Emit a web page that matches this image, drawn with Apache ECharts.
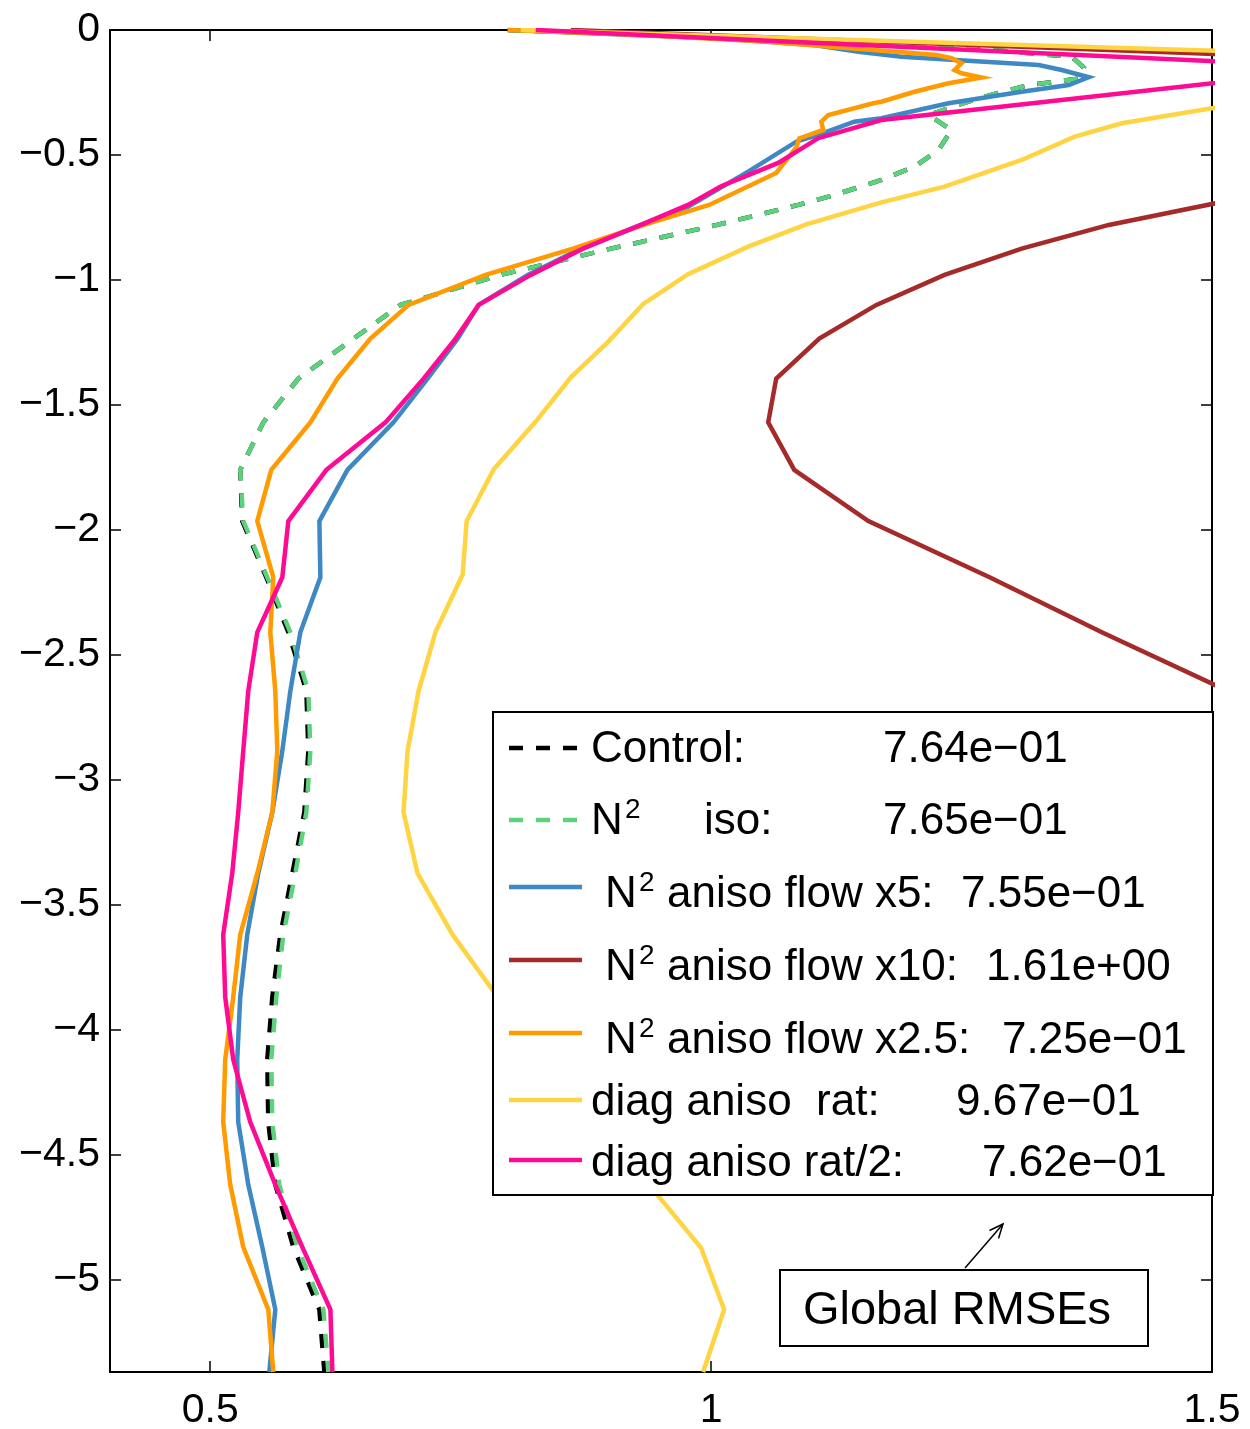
<!DOCTYPE html>
<html>
<head>
<meta charset="utf-8">
<script src="https://cdn.jsdelivr.net/npm/echarts@6/dist/echarts.min.js"></script>
<style>
  html, body { margin: 0; padding: 0; background: #ffffff; }
  #chart { width: 1250px; height: 1429px; }
</style>
</head>
<body>
<div id="chart"></div>
<script>
// Tick positions
const xTicks = [0.5, 1, 1.5];
const yTicks = [0, -0.5, -1, -1.5, -2, -2.5, -3, -3.5, -4, -4.5, -5];

// RMSE profiles: [rmse, depth]
const control = [
  [0.797, 0], [0.95, -0.02], [1.12, -0.05], [1.28, -0.08], [1.36, -0.107], [1.372, -0.15],
  [1.367, -0.195], [1.317, -0.22], [1.267, -0.273], [1.217, -0.34], [1.24, -0.4], [1.227, -0.48],
  [1.203, -0.547], [1.17, -0.6], [1.12, -0.664], [1.087, -0.7], [1.006, -0.78], [0.9, -0.875],
  [0.79, -0.98], [0.69, -1.1], [0.643, -1.235], [0.588, -1.395], [0.553, -1.57], [0.53, -1.76],
  [0.532, -1.965], [0.556, -2.19], [0.578, -2.41], [0.596, -2.645], [0.598, -2.885], [0.594, -3.13],
  [0.582, -3.375], [0.57, -3.62], [0.562, -3.87], [0.557, -4.12], [0.558, -4.37], [0.565, -4.62],
  [0.583, -4.87], [0.609, -5.12], [0.614, -5.37]
];
const n2Iso = [
  [0.797, 0], [0.95, -0.02], [1.12, -0.05], [1.28, -0.08], [1.36, -0.107], [1.372, -0.15],
  [1.367, -0.195], [1.317, -0.22], [1.267, -0.273], [1.217, -0.34], [1.24, -0.4], [1.227, -0.48],
  [1.203, -0.547], [1.17, -0.6], [1.12, -0.664], [1.087, -0.7], [1.006, -0.78], [0.9, -0.875],
  [0.79, -0.98], [0.69, -1.1], [0.643, -1.235], [0.588, -1.395], [0.553, -1.57], [0.53, -1.76],
  [0.533, -1.965], [0.557, -2.19], [0.58, -2.41], [0.598, -2.645], [0.6, -2.885], [0.596, -3.13],
  [0.585, -3.375], [0.573, -3.62], [0.566, -3.87], [0.561, -4.12], [0.562, -4.37], [0.569, -4.62],
  [0.587, -4.87], [0.613, -5.12], [0.618, -5.37]
];
const anisoX5 = [
  [0.8, 0], [1.003, -0.033], [1.103, -0.06], [1.147, -0.087], [1.19, -0.107], [1.327, -0.14],
  [1.35, -0.16], [1.377, -0.189], [1.357, -0.22], [1.31, -0.247], [1.237, -0.293], [1.17, -0.353],
  [1.143, -0.367], [1.107, -0.42], [1.085, -0.447], [1.037, -0.567], [0.977, -0.707], [0.93, -0.78],
  [0.87, -0.875], [0.817, -0.98], [0.768, -1.1], [0.747, -1.235], [0.717, -1.395], [0.683, -1.57],
  [0.637, -1.76], [0.609, -1.965], [0.61, -2.19], [0.59, -2.41], [0.58, -2.645], [0.572, -2.885],
  [0.562, -3.13], [0.548, -3.375], [0.537, -3.62], [0.53, -3.87], [0.527, -4.12], [0.528, -4.37],
  [0.538, -4.62], [0.552, -4.87], [0.565, -5.12], [0.559, -5.37]
];
const anisoX10 = [
  [0.86, 0], [1.6, -0.11], [1.9, -0.3], [1.9, -0.5], [1.52, -0.68], [1.397, -0.78], [1.31, -0.875],
  [1.233, -0.98], [1.165, -1.1], [1.108, -1.235], [1.065, -1.395], [1.057, -1.57], [1.083, -1.76],
  [1.157, -1.965], [1.278, -2.19], [1.39, -2.41], [1.516, -2.645], [1.62, -2.885]
];
const anisoX25 = [
  [0.797, 0], [0.93, -0.02], [1.05, -0.045], [1.225, -0.1], [1.24, -0.113], [1.25, -0.133],
  [1.243, -0.16], [1.25, -0.173], [1.27, -0.19], [1.237, -0.213], [1.203, -0.247], [1.17, -0.287],
  [1.162, -0.293], [1.117, -0.34], [1.11, -0.367], [1.112, -0.4], [1.088, -0.434], [1.085, -0.47],
  [1.065, -0.572], [0.998, -0.7], [0.933, -0.78], [0.862, -0.875], [0.775, -0.98], [0.698, -1.1],
  [0.66, -1.235], [0.627, -1.395], [0.6, -1.57], [0.561, -1.76], [0.547, -1.965], [0.563, -2.19],
  [0.56, -2.41], [0.565, -2.645], [0.567, -2.885], [0.562, -3.13], [0.547, -3.375], [0.53, -3.62],
  [0.523, -3.87], [0.515, -4.12], [0.513, -4.37], [0.52, -4.62], [0.533, -4.87], [0.558, -5.12],
  [0.563, -5.37]
];
const diagRat = [
  [0.81, 0], [1.6, -0.095], [1.75, -0.15], [1.7, -0.2], [1.6, -0.246], [1.41, -0.373],
  [1.363, -0.427], [1.31, -0.52], [1.233, -0.627], [1.17, -0.69], [1.095, -0.778], [1.037, -0.867],
  [0.977, -0.977], [0.932, -1.097], [0.898, -1.245], [0.86, -1.39], [0.825, -1.567], [0.783, -1.758],
  [0.756, -1.965], [0.752, -2.179], [0.725, -2.408], [0.708, -2.645], [0.697, -2.885], [0.693, -3.13],
  [0.707, -3.375], [0.742, -3.62], [0.787, -3.87], [0.84, -4.12], [0.89, -4.37], [0.938, -4.62],
  [0.99, -4.873], [1.013, -5.12], [0.992, -5.37]
];
const diagRatHalf = [
  [0.825, 0], [1.75, -0.17], [1.552, -0.19], [1.17, -0.36], [1.107, -0.433], [1.067, -0.532],
  [1.01, -0.625], [0.977, -0.7], [0.93, -0.78], [0.872, -0.875], [0.82, -0.98], [0.768, -1.1],
  [0.745, -1.235], [0.713, -1.395], [0.675, -1.57], [0.616, -1.76], [0.578, -1.965], [0.572, -2.19],
  [0.547, -2.41], [0.538, -2.645], [0.533, -2.885], [0.528, -3.13], [0.522, -3.375], [0.513, -3.62],
  [0.515, -3.87], [0.523, -4.12], [0.54, -4.37], [0.565, -4.62], [0.592, -4.87], [0.62, -5.12],
  [0.622, -5.37]
];

// Global RMSE of each run, as listed in the key
const seriesNames = ['Control', 'N2 iso', 'N2 aniso flow x5', 'N2 aniso flow x10',
  'N2 aniso flow x2.5', 'diag aniso rat', 'diag aniso rat/2'];
const globalRmse = ['7.64e\u221201', '7.65e\u221201', '7.55e\u221201', '1.61e+00',
  '7.25e\u221201', '9.67e\u221201', '7.62e\u221201'];

const profiles = [control, n2Iso, anisoX5, anisoX10, anisoX25, diagRat, diagRatHalf];
const colors = ['#000000', '#5CD27C', '#3E88C3', '#A52A2A', '#FF9A00', '#FFD442', '#FF0A93'];
const dashed = [true, true, false, false, false, false, false];

const FONT = '"Liberation Sans", Arial, Helvetica, sans-serif';
const X_MIN = 0.4, X_MAX = 1.5, Y_MIN = -5.37, Y_MAX = 0;

const chart = echarts.init(document.getElementById('chart'), null, { renderer: 'canvas' });

function xAxisDef(position, showLabel) {
  return {
    type: 'value', position: position, min: X_MIN, max: X_MAX,
    axisLine: { show: true, onZero: false, lineStyle: { color: '#000', width: 2 } },
    splitLine: { show: false },
    axisTick: { show: true, inside: true, length: 11, customValues: xTicks,
      lineStyle: { color: '#000', width: 1.5 } },
    axisLabel: { show: showLabel, customValues: xTicks, fontSize: 41, color: '#000',
      fontFamily: FONT, margin: 18 }
  };
}
function yAxisDef(position, showLabel) {
  return {
    type: 'value', position: position, min: Y_MIN, max: Y_MAX,
    axisLine: { show: true, onZero: false, lineStyle: { color: '#000', width: 2 } },
    splitLine: { show: false },
    axisTick: { show: true, inside: true, length: 11, customValues: yTicks,
      lineStyle: { color: '#000', width: 1.5 } },
    axisLabel: { show: showLabel, customValues: yTicks, fontSize: 41, color: '#000',
      fontFamily: FONT, margin: 10,
      formatter: v => (v < 0 ? '\u2212' + Math.abs(v) : String(v)) }
  };
}

const series = profiles.map((data, i) => ({
  name: seriesNames[i],
  type: 'line',
  data: data,
  xAxisIndex: 0,
  yAxisIndex: 0,
  symbol: 'none',
  showSymbol: false,
  clip: true,
  silent: true,
  z: 2 + i,
  lineStyle: { color: colors[i], width: 4.5, type: dashed[i] ? [14, 13] : 'solid', cap: 'butt', join: 'miter' }
}));

// Key box layout
const keyBox = { x: 493, y: 712, w: 720, h: 483 };
const keyRows = [
  { lineY: 748, textY: 750, parts: [{ t: 'Control:', x: 591 }], valX: 883 },
  { lineY: 820, textY: 822, nx: 591, supX: 625, parts: [{ t: 'iso:', x: 704 }], valX: 883 },
  { lineY: 887, textY: 895, nx: 605, supX: 639, parts: [{ t: 'aniso flow x5:', x: 667 }], valX: 961 },
  { lineY: 960, textY: 968, nx: 605, supX: 639, parts: [{ t: 'aniso flow x10:', x: 667 }], valX: 986 },
  { lineY: 1033, textY: 1041, nx: 605, supX: 639, parts: [{ t: 'aniso flow x2.5:', x: 667 }], valX: 1002 },
  { lineY: 1100, textY: 1103, parts: [{ t: 'diag aniso  rat:', x: 591 }], valX: 956 },
  { lineY: 1160, textY: 1164, parts: [{ t: 'diag aniso rat/2:', x: 591 }], valX: 982 }
];

function txt(text, x, y, size) {
  return {
    type: 'text', x: x, y: y, z: 101, silent: true,
    style: { text: text, fontSize: size, fontFamily: FONT, fill: '#000',
      textAlign: 'left', align: 'left', textVerticalAlign: 'middle', verticalAlign: 'middle' }
  };
}

const graphic = [];
graphic.push({
  type: 'rect', z: 100, silent: true,
  shape: { x: keyBox.x, y: keyBox.y, width: keyBox.w, height: keyBox.h },
  style: { fill: '#ffffff', stroke: '#000000', lineWidth: 2 }
});
keyRows.forEach((row, i) => {
  graphic.push({
    type: 'line', z: 101, silent: true,
    shape: { x1: 509, y1: row.lineY, x2: 582, y2: row.lineY },
    style: { stroke: colors[i], lineWidth: 4.5, lineDash: dashed[i] ? [14, 13] : null }
  });
  if (row.nx !== undefined) {
    graphic.push(txt('N', row.nx, row.textY, 44));
    graphic.push(txt('2', row.supX, row.textY - 12, 28));
  }
  row.parts.forEach(p => graphic.push(txt(p.t, p.x, row.textY, 44)));
  graphic.push(txt(globalRmse[i], row.valX, row.textY, 44));
});

// Annotation box with arrow pointing at the key
graphic.push({
  type: 'rect', z: 100, silent: true,
  shape: { x: 780, y: 1270, width: 368, height: 76 },
  style: { fill: '#ffffff', stroke: '#000000', lineWidth: 2 }
});
graphic.push({
  type: 'text', x: 957, y: 1311, z: 101, silent: true,
  style: { text: 'Global RMSEs', fontSize: 47, fontFamily: FONT, fill: '#000',
    textAlign: 'center', align: 'center', textVerticalAlign: 'middle', verticalAlign: 'middle' }
});
graphic.push({
  type: 'line', z: 101, silent: true,
  shape: { x1: 965, y1: 1268, x2: 1003, y2: 1224 },
  style: { stroke: '#000', lineWidth: 1.5 }
});
graphic.push({
  type: 'polyline', z: 101, silent: true,
  shape: { points: [[989.5, 1230.5], [1003, 1224], [998.5, 1238.5]] },
  style: { stroke: '#000', lineWidth: 1.5, fill: null }
});

chart.setOption({
  animation: false,
  backgroundColor: '#ffffff',
  grid: { left: 110, top: 30, width: 1102, height: 1342, containLabel: false, outerBoundsMode: 'none' },
  xAxis: [xAxisDef('bottom', true), xAxisDef('top', false)],
  yAxis: [yAxisDef('left', true), yAxisDef('right', false)],
  series: series,
  graphic: graphic
});
</script>
</body>
</html>
